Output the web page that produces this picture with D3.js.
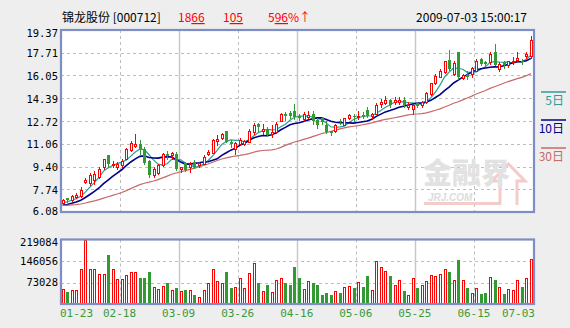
<!DOCTYPE html>
<html><head><meta charset="utf-8">
<script src="https://cdn.jsdelivr.net/npm/d3@7"></script>
<style>
html,body{margin:0;padding:0;background:#eeeeee;}
svg{display:block;}
</style></head><body>
<svg id="chart" width="570" height="328"></svg>
<script>
// Daily K-line for 锦龙股份 (000712), 2009-01-23 .. 2009-07-03
const stockName = "锦龙股份";
const stockCode = "000712";
const stamp = "2009-07-03 15:00:17";

const opens = [6.76,7.07,6.95,7.15,7.24,8.26,8.21,8.40,8.64,9.33,
10.22,9.49,9.38,9.49,9.98,10.58,10.92,11.02,10.66,9.78,
8.77,8.93,9.49,10.34,10.22,10.34,9.20,9.66,9.37,9.73,
9.54,9.62,10.34,10.39,11.24,11.50,11.98,11.19,10.71,11.07,
11.07,11.19,11.91,12.47,12.03,12.16,11.80,11.91,12.71,13.25,
13.29,13.49,13.12,12.88,13.05,13.25,12.83,12.93,12.45,11.96,
11.96,12.76,12.45,12.93,13.12,13.00,13.17,13.56,13.12,13.25,
13.97,14.02,14.26,14.09,14.14,14.26,13.78,13.63,14.02,13.92,
14.09,14.70,15.47,15.96,16.27,17.17,16.17,17.75,15.86,16.10,
16.17,16.41,17.26,17.02,17.02,17.75,16.54,17.02,16.83,17.02,
17.21,17.14,17.46,17.50];
const highs = [7.02,7.12,7.31,7.46,7.92,8.53,8.96,9.08,9.37,9.98,
10.27,9.81,9.73,9.93,10.75,11.26,11.74,11.31,10.82,9.86,
9.37,9.62,10.36,10.53,10.46,10.46,9.37,9.71,9.71,9.86,
9.73,10.22,10.58,11.38,11.67,11.87,12.03,11.31,11.19,11.45,
11.36,12.11,12.56,12.56,12.52,12.27,12.40,12.62,13.34,13.36,
13.49,13.97,13.20,13.36,13.49,13.49,12.93,13.05,12.76,12.03,
12.52,12.88,12.98,13.25,13.25,13.49,13.36,13.73,13.34,14.05,
14.34,14.58,14.34,14.50,14.45,14.45,14.09,14.00,14.09,14.21,
14.82,15.52,16.15,16.52,17.12,17.90,17.12,17.79,16.17,16.34,
16.66,17.26,17.34,17.14,17.75,18.35,17.02,17.07,17.14,17.39,
17.75,17.26,17.79,18.91];
const lows = [6.66,6.83,6.88,7.10,7.19,8.21,8.04,8.16,8.53,9.25,
9.37,9.33,9.20,9.33,9.93,10.53,10.82,10.22,9.57,8.66,
8.60,8.84,9.42,9.95,9.98,9.13,9.01,9.06,9.01,9.27,
9.37,9.57,10.22,10.36,10.95,11.43,11.16,10.82,10.34,10.95,
10.95,11.16,11.79,12.03,11.79,11.60,11.55,11.87,12.69,12.81,
12.96,12.88,12.83,12.69,12.93,12.52,12.20,12.54,11.87,11.72,
11.91,12.52,12.40,12.88,12.76,12.88,12.93,13.00,12.98,13.20,
13.73,13.97,13.73,13.97,13.97,13.73,13.61,13.20,13.73,13.73,
14.02,14.65,15.43,15.91,16.25,16.44,16.05,15.81,15.76,15.81,
15.93,16.34,16.83,16.78,16.90,16.78,16.41,16.59,16.66,16.90,
17.14,16.90,17.31,17.31];
const closes = [6.95,6.93,7.24,7.34,7.68,8.45,8.77,8.89,9.25,9.98,
9.62,9.62,9.57,9.81,10.71,11.11,11.07,10.66,9.66,8.80,
9.25,9.49,10.29,10.20,10.39,9.25,9.33,9.13,9.62,9.37,
9.66,10.10,10.46,11.31,11.38,11.80,11.19,11.07,11.11,11.36,
11.26,12.03,12.40,12.27,12.16,11.67,11.91,12.52,13.25,13.12,
13.12,13.00,12.93,13.25,13.17,12.69,12.45,12.64,11.91,11.84,
12.45,12.64,12.93,13.17,13.00,13.12,13.05,13.12,13.25,13.92,
14.09,14.26,13.92,14.26,14.26,13.92,13.92,13.89,13.85,14.09,
14.74,15.47,16.03,16.39,17.07,16.52,16.97,15.93,16.05,15.93,
16.59,17.07,16.90,16.90,17.63,16.83,16.90,16.78,17.07,17.14,
17.31,17.02,17.61,18.66];
const volumes = [51000,42000,47000,47000,118000,216000,118000,120000,101000,103000,
167000,118000,86000,86000,97000,107000,107000,88000,90000,108000,
58000,51000,61000,70000,49000,56000,44000,49000,47000,31000,
24000,47000,70000,118000,77000,73000,108000,53000,59000,89000,
56000,104000,138000,73000,45000,66000,42000,80000,89000,73000,
63000,125000,87000,51000,79000,73000,63000,31000,38000,31000,
44000,38000,58000,61000,56000,75000,59000,94000,47000,145000,
124000,111000,94000,63000,83000,45000,31000,87000,53000,63000,
77000,97000,94000,101000,118000,108000,80000,150000,83000,56000,
37000,56000,35000,38000,93000,80000,58000,35000,52000,49000,
83000,59000,87000,153000];
// closes of the 29 sessions before 01-23 (feed the moving averages)
const priorCloses = [6.62,6.55,6.48,6.40,6.35,6.42,6.50,6.58,6.66,6.70,
6.63,6.55,6.50,6.58,6.64,6.60,6.52,6.47,6.55,6.62,
6.50,6.42,6.35,6.40,6.48,6.58,6.66,6.74,6.82];

const priceTicks = [6.08,7.74,9.40,11.06,12.72,14.39,16.05,17.71,19.37];
const volumeTicks = [73028,146056,219084];
const dateLabels = ["01-23","02-18","03-09","03-26","04-16","05-06","05-25","06-15","07-03"];
const maPeriods = [5,10,30];
const maNames = ["5日","10日","30日"];
const maColors = ["#2e9c98","#000088","#c86868"];

const upColor = "#ff0000", downColor = "#339933";
const numFont = "'DejaVu Sans Mono', monospace";
const cjkFont = "'Noto Sans CJK SC', sans-serif";

const svg = d3.select("#chart");
const L = 61, R = 534, T = 30, B = 212, VT = 239.5, VB = 304;
const n = closes.length;

const x = d3.scaleBand().domain(d3.range(n)).range([L, R - 1.5]).paddingInner(0.3);
const cx = i => x(i) + x.bandwidth() / 2;
const y = d3.scaleLinear().domain([priceTicks[0], priceTicks[priceTicks.length - 1]]).range([B, T]);
const yv = d3.scaleLinear().domain([0, volumeTicks[volumeTicks.length - 1]]).range([VB, VT]);
const grid = d3.scaleLinear().domain([0, dateLabels.length - 1]).range([L - 0.5, R - 1]);
const crisp = v => Math.round(v) + 0.5;

// panels
[[T, B], [VT, VB]].forEach(([t, b]) => {
  svg.append("rect").attr("x", L).attr("y", t).attr("width", R - L).attr("height", b - t).attr("fill", "#fff");
});

// horizontal grid
const hg = svg.append("g").attr("stroke", "#bdbdbd").attr("stroke-dasharray", "3,3").attr("stroke-width", 1);
priceTicks.slice(1, -1).forEach(t => {
  hg.append("line").attr("x1", L).attr("x2", R).attr("y1", crisp(y(t))).attr("y2", crisp(y(t)));
});
volumeTicks.slice(0, -1).forEach(t => {
  hg.append("line").attr("x1", L).attr("x2", R).attr("y1", crisp(yv(t))).attr("y2", crisp(yv(t)));
});

// vertical grid: dashed and solid alternate
d3.range(1, dateLabels.length - 1).forEach(k => {
  const gx = crisp(grid(k));
  [[T, B], [VT, VB]].forEach(([t, b]) => {
    svg.append("line").attr("x1", gx).attr("x2", gx).attr("y1", t).attr("y2", b)
      .attr("stroke", k % 2 ? "#bdbdbd" : "#c8c8c8")
      .attr("stroke-width", k % 2 ? 1 : 1.5)
      .attr("stroke-dasharray", k % 2 ? "3,3" : null);
  });
});

// watermark
const wm = svg.append("g");
wm.append("path")
  .attr("d", "M424,203.5 H500 V181 H492 L508.5,164 L525,181 H517 V205")
  .attr("fill", "none").attr("stroke", "#f5cccc").attr("stroke-width", 3);
wm.append("text").attr("x", 423).attr("y", 184).text("金融界")
  .attr("font-family", cjkFont).attr("font-size", 29).attr("font-weight", 900).attr("fill", "#e2e2e2");
wm.append("text").attr("x", 428).attr("y", 201).text("JRJ.COM")
  .attr("font-family", "'Liberation Sans', sans-serif").attr("font-size", 10).attr("font-style", "italic")
  .attr("font-weight", "bold").attr("fill", "#dcdcdc");

// moving averages
const allCloses = priorCloses.concat(closes);
const k0 = priorCloses.length;
maPeriods.forEach((p, m) => {
  const vals = closes.map((_, i) => d3.mean(allCloses.slice(k0 + i + 1 - p, k0 + i + 1)));
  svg.append("path").datum(vals)
    .attr("d", d3.line().x((_, i) => cx(i)).y(v => y(v)))
    .attr("fill", "none").attr("stroke", maColors[m]).attr("stroke-width", m === 1 ? 1.6 : 1.2);
});

// candles
const cg = svg.append("g");
closes.forEach((c, i) => {
  const o = opens[i], up = c >= o, px = Math.round(cx(i));
  const col = up ? upColor : downColor;
  cg.append("line").attr("x1", px + 0.5).attr("x2", px + 0.5)
    .attr("y1", Math.round(y(highs[i]))).attr("y2", Math.round(y(lows[i])) + 1)
    .attr("stroke", col).attr("stroke-width", 1);
  const top = Math.round(y(Math.max(o, c))), bot = Math.round(y(Math.min(o, c)));
  if (up) {
    cg.append("rect").attr("x", px - 0.5).attr("y", top + 0.5).attr("width", 2)
      .attr("height", Math.max(bot - top, 1)).attr("fill", "#fff").attr("stroke", col).attr("stroke-width", 1);
  } else {
    cg.append("rect").attr("x", px - 1).attr("y", top).attr("width", 3)
      .attr("height", Math.max(bot - top, 1)).attr("fill", col);
  }
});

// volume bars
const vg = svg.append("g");
volumes.forEach((v, i) => {
  const up = closes[i] >= opens[i], px = Math.round(cx(i));
  const top = Math.round(yv(v));
  if (up) {
    vg.append("rect").attr("x", px - 0.5).attr("y", top + 0.5).attr("width", 2)
      .attr("height", VB - top - 1).attr("fill", "#fff").attr("stroke", upColor).attr("stroke-width", 1);
  } else {
    vg.append("rect").attr("x", px - 1).attr("y", top).attr("width", 3)
      .attr("height", VB - top).attr("fill", downColor);
  }
});

// frames
[[T, B], [VT, VB]].forEach(([t, b]) => {
  svg.append("rect").attr("x", L).attr("y", t).attr("width", R - L).attr("height", b - t)
    .attr("fill", "none").attr("stroke", "#7d8ec4").attr("stroke-width", 2.2);
});

// price axis labels
svg.append("g").selectAll("text").data(priceTicks).join("text")
  .attr("x", 58).attr("y", t => Math.min(Math.max(y(t) + 1, T + 3), B - 1))
  .attr("dy", "0.35em").attr("text-anchor", "end")
  .attr("font-family", numFont).attr("font-size", 10.5).attr("fill", "#000")
  .text(t => t.toFixed(2));

// volume axis labels
svg.append("g").selectAll("text").data(volumeTicks).join("text")
  .attr("x", 58).attr("y", t => Math.max(yv(t), VT + 3))
  .attr("dy", "0.35em").attr("text-anchor", "end")
  .attr("font-family", numFont).attr("font-size", 10.5).attr("fill", "#000")
  .text(t => t);

// date labels
svg.append("g").selectAll("text").data(dateLabels).join("text")
  .attr("x", (d, k) => k === 0 ? L - 1 : k === dateLabels.length - 1 ? R + 1 : grid(k))
  .attr("y", 317)
  .attr("text-anchor", (d, k) => k === 0 ? "start" : k === dateLabels.length - 1 ? "end" : "middle")
  .attr("font-family", numFont).attr("font-size", 11).attr("fill", "#3a9a3a")
  .text(d => d);

// header
const last = closes[n - 1], prev = closes[n - 2];
const chg = last - prev, pct = chg / prev * 100;
const hdr = svg.append("g").attr("font-family", cjkFont).attr("font-size", 12);
hdr.append("text").attr("x", 62).attr("y", 22).attr("fill", "#000").text(`${stockName} [${stockCode}]`);
function splitNum(g, xPos, v, suffix) {
  const s = v.toFixed(2).split(".");
  const t = g.append("text").attr("x", xPos).attr("y", 22).attr("fill", "#ff0000");
  t.append("tspan").text(s[0]);
  t.append("tspan").attr("text-decoration", "underline").style("text-decoration", "underline").text(s[1]);
  if (suffix) t.append("tspan").text(suffix);
}
splitNum(hdr, 178, last, "");
splitNum(hdr, 223, chg, "");
splitNum(hdr, 268, pct, "%↑");
hdr.append("text").attr("x", 527).attr("y", 22).attr("text-anchor", "end").attr("fill", "#000").text(stamp);

// MA legend
maNames.forEach((nm, m) => {
  const ly = 92 + m * 28;
  svg.append("line").attr("x1", 541).attr("x2", 566).attr("y1", ly).attr("y2", ly)
    .attr("stroke", maColors[m]).attr("stroke-width", 1.5);
  svg.append("text").attr("x", 564).attr("y", ly + 13).attr("text-anchor", "end")
    .attr("font-family", cjkFont).attr("font-size", 12).attr("fill", maColors[m]).text(nm);
});
</script>
</body></html>
